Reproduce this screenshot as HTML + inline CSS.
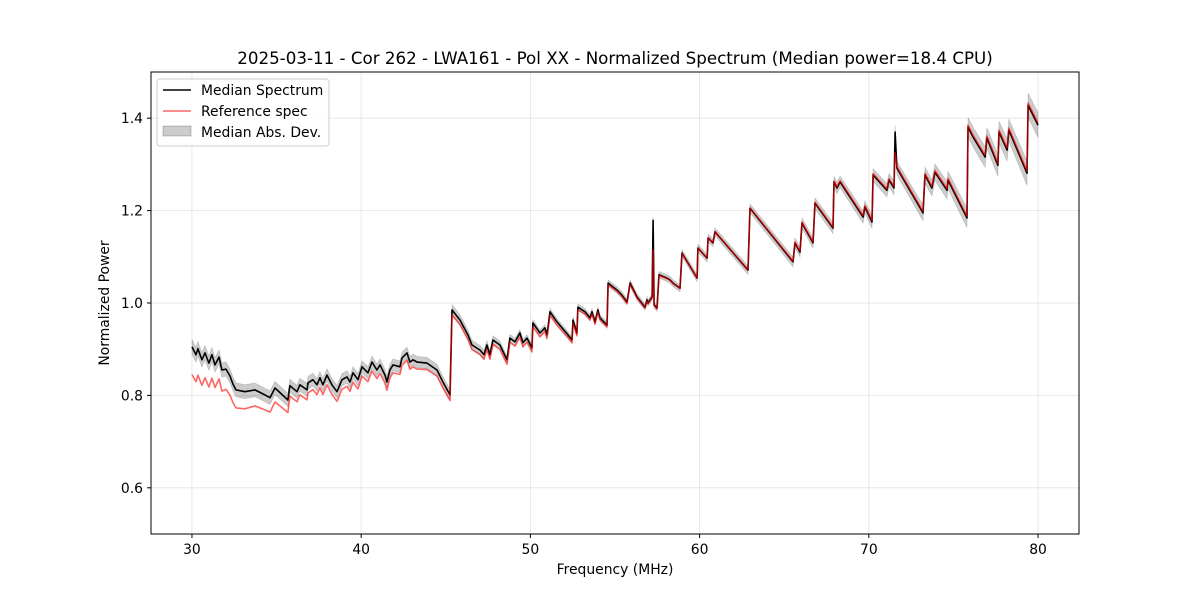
<!DOCTYPE html>
<html><head><meta charset="utf-8"><style>
body{margin:0;background:#fff}
svg text{font-family:"DejaVu Sans","Liberation Sans",sans-serif;fill:#000}
</style></head><body>
<svg id="chart" width="1200" height="600" xmlns="http://www.w3.org/2000/svg">
<rect width="1200" height="600" fill="#fff"/>
<text x="615" y="64" font-size="16.7" text-anchor="middle">2025-03-11 - Cor 262 - LWA161 - Pol XX - Normalized Spectrum (Median power=18.4 CPU)</text>
<g id="grid"></g>
<g id="series"></g>
<rect x="151" y="72" width="928" height="462" fill="none" stroke="#000" stroke-width="1"/>
<g id="ticks"></g>
<text x="615" y="574" font-size="13.9" text-anchor="middle">Frequency (MHz)</text>
<text transform="translate(109,303) rotate(-90)" font-size="13.9" text-anchor="middle">Normalized Power</text>
<g>
<rect x="157" y="79" width="172" height="67" rx="3" fill="#fff" fill-opacity="0.8" stroke="#ccc"/>
<g><line x1="163" y1="90" x2="191" y2="90" stroke="#000" stroke-width="1.5"/><text x="201" y="95" font-size="13.9">Median Spectrum</text></g>
<g><line x1="163" y1="111" x2="191" y2="111" stroke="#ff0000" stroke-opacity="0.6" stroke-width="1.5"/><text x="201" y="116" font-size="13.9">Reference spec</text></g>
<g><rect x="163" y="126" width="28" height="10" fill="#000" fill-opacity="0.2" stroke="#000" stroke-opacity="0.2"/><text x="201" y="137" font-size="13.9">Median Abs. Dev.</text></g>
</g>
</svg>
<script>
const freqs=[30.00,30.24,30.35,30.59,30.77,31.00,31.18,31.36,31.60,31.77,32.01,32.25,32.42,32.60,33.13,33.72,34.31,34.61,34.91,35.67,35.79,36.21,36.38,36.80,36.86,37.15,37.39,37.56,37.74,37.98,38.27,38.57,38.87,39.16,39.34,39.52,39.81,40.05,40.40,40.64,40.93,41.11,41.41,41.52,41.70,41.88,42.29,42.41,42.71,42.88,43.06,43.30,43.89,44.48,44.83,45.25,45.37,45.84,46.31,46.55,47.02,47.26,47.43,47.61,47.79,48.20,48.62,48.79,49.09,49.38,49.56,49.80,50.09,50.15,50.57,50.86,50.98,51.16,51.57,52.22,52.46,52.52,52.75,52.81,53.23,53.52,53.64,53.82,53.99,54.11,54.53,54.59,55.12,55.41,55.71,55.89,56.30,56.77,56.89,56.95,57.19,57.25,57.31,57.48,57.60,58.07,58.25,58.43,58.84,58.96,59.85,59.90,60.44,60.50,60.79,60.91,62.86,62.98,65.52,65.64,65.93,66.05,66.70,66.82,67.88,67.94,68.12,68.30,69.66,69.77,70.19,70.25,71.07,71.19,71.49,71.55,71.66,73.20,73.32,73.73,73.91,74.62,74.68,75.80,75.86,76.16,76.87,76.98,77.63,77.69,78.17,78.28,79.35,79.41,80.00];
const median=[0.905,0.888,0.901,0.877,0.892,0.870,0.888,0.866,0.883,0.855,0.857,0.842,0.825,0.812,0.808,0.812,0.801,0.795,0.816,0.790,0.821,0.808,0.823,0.812,0.827,0.834,0.823,0.838,0.823,0.844,0.823,0.808,0.834,0.840,0.829,0.849,0.834,0.862,0.849,0.872,0.855,0.866,0.844,0.829,0.855,0.866,0.862,0.881,0.892,0.872,0.877,0.872,0.870,0.855,0.829,0.801,0.985,0.963,0.931,0.909,0.898,0.888,0.909,0.888,0.920,0.909,0.877,0.924,0.916,0.935,0.914,0.924,0.903,0.957,0.935,0.946,0.931,0.981,0.959,0.931,0.920,0.963,0.935,0.991,0.981,0.968,0.981,0.959,0.985,0.968,0.952,1.043,1.028,1.017,1.002,1.043,1.013,0.991,1.007,1.000,1.013,1.179,0.996,0.989,1.061,1.054,1.050,1.043,1.032,1.108,1.054,1.119,1.097,1.141,1.130,1.154,1.071,1.205,1.089,1.130,1.110,1.173,1.130,1.216,1.162,1.262,1.249,1.262,1.186,1.208,1.175,1.277,1.244,1.266,1.249,1.370,1.292,1.195,1.277,1.249,1.283,1.244,1.266,1.184,1.381,1.359,1.316,1.357,1.298,1.370,1.331,1.374,1.281,1.428,1.385];
const offsetFreqs=[30,32.6,35.7,35.8,40,45.25,45.4,50,55,60,70,80];
const refOffsets=[-0.060,-0.039,-0.027,-0.022,-0.020,-0.012,-0.010,-0.009,-0.003,0,0.003,0.005];
const spikeFreqs=[57.25,71.55];
const spikeRefValues=[1.115,1.326];
const madFreqs=[30,36,45,50,57,65,72,80];
const madValues=[0.016,0.014,0.012,0.007,0.007,0.010,0.015,0.027];
const xTicks=[30,40,50,60,70,80];
const yTicks=[0.6,0.8,1.0,1.2,1.4];
const yTickLabels=["0.6","0.8","1.0","1.2","1.4"];

const NS="http://www.w3.org/2000/svg";
const X0=151,X1=1079,Y0=72,Y1=534,XMIN=27.58,XMAX=82.42,YMIN=0.5,YMAX=1.5;
const sx=f=>X0+(f-XMIN)/(XMAX-XMIN)*(X1-X0);
const sy=v=>Y1-(v-YMIN)/(YMAX-YMIN)*(Y1-Y0);
function interp(xs,ys,x){if(x<=xs[0])return ys[0];for(let i=1;i<xs.length;i++){if(x<=xs[i]){const t=(x-xs[i-1])/(xs[i]-xs[i-1]);return ys[i-1]+t*(ys[i]-ys[i-1]);}}return ys[ys.length-1];}
function mk(tag,attrs,parent){const e=document.createElementNS(NS,tag);for(const k in attrs)e.setAttribute(k,attrs[k]);parent.appendChild(e);return e;}
const grid=document.getElementById('grid'),ticks=document.getElementById('ticks'),series=document.getElementById('series');
xTicks.forEach(t=>{
 const g=mk('line',{x1:sx(t),x2:sx(t),y1:Y0,y2:Y1,stroke:'#b0b0b0','stroke-opacity':0.35,'stroke-width':0.8},grid);
 
 
 const tk=mk('line',{x1:sx(t),x2:sx(t),y1:Y1,y2:Y1+4,stroke:'#000'},ticks);
 
 
 const tx=mk('text',{x:sx(t),y:Y1+20,'font-size':13.9,'text-anchor':'middle'},ticks);tx.textContent=t;
 
 
});
yTicks.forEach((t,i)=>{
 const g=mk('line',{x1:X0,x2:X1,y1:sy(t),y2:sy(t),stroke:'#b0b0b0','stroke-opacity':0.35,'stroke-width':0.8},grid);
 
 
 const tk=mk('line',{x1:X0-4,x2:X0,y1:sy(t),y2:sy(t),stroke:'#000'},ticks);
 
 
 const tx=mk('text',{x:X0-8,y:sy(t)+5,'font-size':13.9,'text-anchor':'end'},ticks);tx.textContent=yTickLabels[i];
 
 
});
let up=[],dn=[];
freqs.forEach((f,i)=>{const m=interp(madFreqs,madValues,f);up.push(sx(f).toFixed(1)+','+sy(median[i]+m).toFixed(1));dn.unshift(sx(f).toFixed(1)+','+sy(median[i]-m).toFixed(1));});
const band=mk('polygon',{points:up.concat(dn).join(' '),fill:'#000','fill-opacity':0.2,stroke:'#000','stroke-opacity':0.15,'stroke-width':0.8},series);


const medPts=freqs.map((f,i)=>sx(f).toFixed(1)+','+sy(median[i]).toFixed(1)).join(' ');
const med=mk('polyline',{points:medPts,fill:'none',stroke:'#000','stroke-width':1.6,'stroke-linejoin':'round'},series);


const refPts=freqs.map((f,i)=>{const si=spikeFreqs.indexOf(f);const v=si>=0?spikeRefValues[si]:median[i]+interp(offsetFreqs,refOffsets,f);return sx(f).toFixed(1)+','+sy(v).toFixed(1);}).join(' ');
const ref=mk('polyline',{points:refPts,fill:'none',stroke:'#ff0000','stroke-opacity':0.6,'stroke-width':1.6,'stroke-linejoin':'round'},series);


</script>
</body></html>
